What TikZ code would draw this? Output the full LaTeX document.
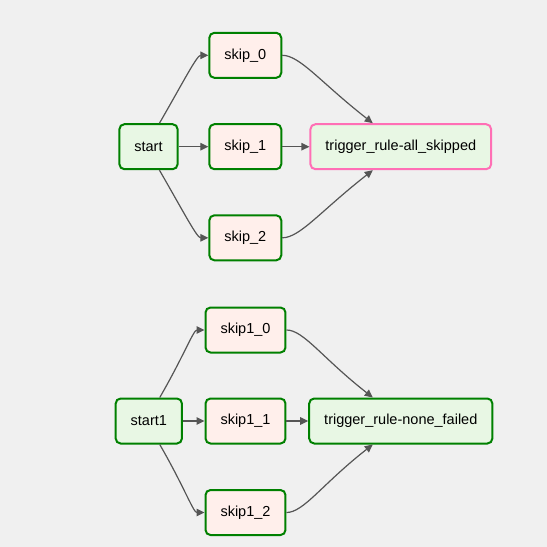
\documentclass[tikz,border=0pt]{standalone}
\usepackage{fontspec}
\setmainfont{Liberation Sans}
\usepackage{tikz}
\usetikzlibrary{arrows.meta}
\usetikzlibrary{positioning}
\definecolor{bggrey}{HTML}{F0F0F0}
\definecolor{okgreen}{HTML}{008000}
\definecolor{skippink}{HTML}{FF6FB5}
\definecolor{dummyfill}{HTML}{E8F7E4}
\definecolor{pyfill}{HTML}{FFEFEB}
\definecolor{edgegrey}{HTML}{555555}
\tikzset{
task/.style = {draw=okgreen, line width=2pt, rounded corners=5pt,
               inner xsep=15pt, minimum height=45pt,
               font=\fontsize{14.5}{17}\selectfont},
dummy/.style = {task, fill=dummyfill},
pyop/.style = {task, fill=pyfill},
skipped/.style = {dummy, draw=skippink},
flow/.style = {draw=edgegrey, line width=1.2pt,
               -{Triangle[length=8pt,width=7.5pt]}}
}
\newcommand{\task}[4]{\node[#1] (#2) at (#3) {#4};}
\newcommand{\flow}[2]{\draw[flow] (#1) -- (#2);}
% fan out: long straight run, late bend into the box
\newcommand{\fanout}[3]{\draw[flow] (#1) to[out=#3,in=180,
    out looseness=1.5,in looseness=0.35] (#2);}
% fan in: short bend, then a long diagonal run
\newcommand{\fanin}[3]{\draw[flow] (#1) to[out=0,in=#3,
    out looseness=0.4,in looseness=1.5] (#2);}

\begin{document}
\begin{tikzpicture}[x=1pt,y=1pt]
        \fill[bggrey] (0,0) rectangle (547,-547);
        \useasboundingbox (0,0) rectangle (547,-547);
        % all_skipped
        \task{dummy}{start}{148.5,-146.7}{start};
        \task{pyop}{sk0}{245.3,-55.3}{skip\_0};
        \task{pyop}{sk1}{245.3,-146.7}{skip\_1};
        \task{pyop}{sk2}{245.3,-237.8}{skip\_2};
        \task{skipped}{trig}{400.8,-146.7}{trigger\_rule-all\_skipped};
        \fanout{start.65}{sk0.west}{60};
        \flow{start.east}{sk1.west};
        \fanout{start.-65}{sk2.west}{-60};
        \fanin{sk0.east}{trig.140}{142};
        \flow{sk1.east}{trig.west};
        \fanin{sk2.east}{trig.220}{218};
        % none_failed
        \task{dummy}{start1}{148.8,-421}{start1};
        \task{pyop}{sk10}{245.5,-330}{skip1\_0};
        \task{pyop}{sk11}{245.5,-421}{skip1\_1};
        \task{pyop}{sk12}{245.5,-512.5}{skip1\_2};
        \task{dummy}{trig1}{400.8,-421}{trigger\_rule-none\_failed};
        \fanout{start1.65}{sk10.west}{60};
        \flow{start1.east}{sk11.west};
        \fanout{start1.-65}{sk12.west}{-60};
        \fanin{sk10.east}{trig1.140}{142};
        \flow{sk11.east}{trig1.west};
        \fanin{sk12.east}{trig1.220}{218};
\end{tikzpicture}
\end{document}
